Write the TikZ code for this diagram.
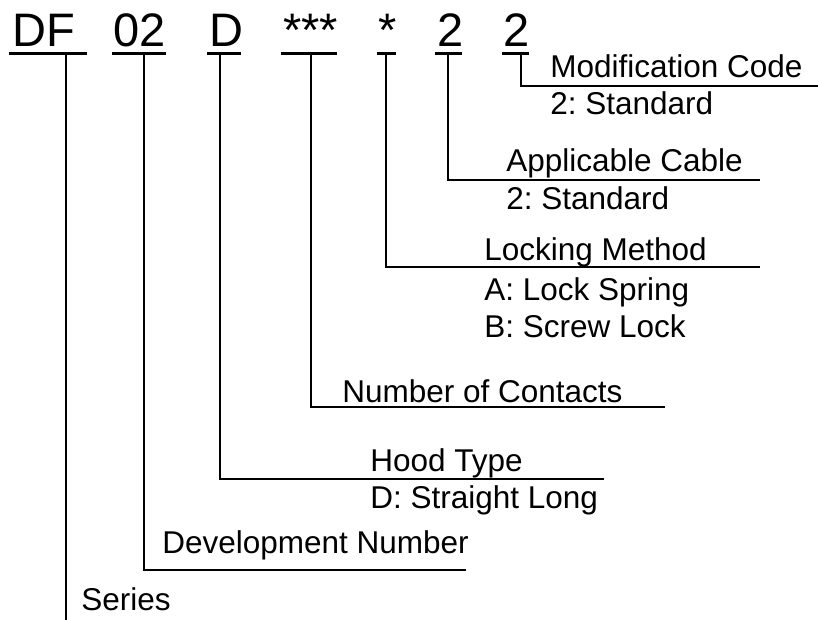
\documentclass[tikz,border=0pt]{standalone}
\usepackage{fontspec}
\setmainfont{Liberation Sans}
\usepackage{tikz}
\usetikzlibrary{positioning}
\frenchspacing

\begin{document}
\begin{tikzpicture}[x=0.5pt, y=-0.5pt,
  code/.style={anchor=base west, inner sep=0pt, font=\fontsize{23.5}{26}\selectfont},
  lbl/.style={anchor=base west, inner sep=0pt, font=\fontsize{15.75}{18}\selectfont},
  uline/.style={line width=1.5pt},
  lead/.style={line width=0.75pt}]
  \useasboundingbox (0,0) rectangle (818,620);

  % part number
  \node[code] (c1) at (12,47) {DF};
  \node[code] (c2) at (113,47) {02};
  \node[code] (c3) at (209,47) {D};
  \node[code] (c4) at (283,47) {***};
  \node[code] (c5) at (378,47) {*};
  \node[code] (c6) at (437,47) {2};
  \node[code] (c7) at (503,47) {2};
  \foreach \a/\b in {9/87, 112/166, 207/241, 281/337, 377/396, 435/462, 502/529}
    \draw[uline] (\a,54) -- (\b,54);

  \coordinate (t1) at (66,54);
  \coordinate (t2) at (144,54);
  \coordinate (t3) at (220,54);
  \coordinate (t4) at (311,54);
  \coordinate (t5) at (386,54);
  \coordinate (t6) at (448,54);
  \coordinate (t7) at (521,54);

  % fields
  \node[lbl] (mod) at (550,78) {Modification Code};
  \node[lbl] (modv) at (550,115) {2: Standard};
  \node[lbl] (cab) at (506,172) {Applicable Cable};
  \node[lbl] (cabv) at (506,210) {2: Standard};
  \node[lbl] (lock) at (484,260) {Locking Method};
  \node[lbl] (locka) at (484,300) {A: Lock Spring};
  \node[lbl] (lockb) at (484,337) {B: Screw Lock};
  \node[lbl] (cont) at (342,402) {Number of Contacts};
  \node[lbl] (hood) at (370,471) {Hood Type};
  \node[lbl] (hoodv) at (370,508) {D: Straight Long};
  \node[lbl] (dev) at (162,553) {Development Number};
  \node[lbl] (ser) at (81,610) {Series};

  \coordinate (modr) at (818,86);
  \coordinate (cabr) at (760,180);
  \coordinate (lockr) at (760,267);
  \coordinate (contr) at (665,407);
  \coordinate (hoodr) at (604,479);
  \coordinate (devr) at (466,570);
  \coordinate (serb) at (66,620);

  \draw[lead] (t7) |- (modr);
  \draw[lead] (t6) |- (cabr);
  \draw[lead] (t5) |- (lockr);
  \draw[lead] (t4) |- (contr);
  \draw[lead] (t3) |- (hoodr);
  \draw[lead] (t2) |- (devr);
  \draw[lead] (t1) -- (serb);
\end{tikzpicture}
\end{document}
